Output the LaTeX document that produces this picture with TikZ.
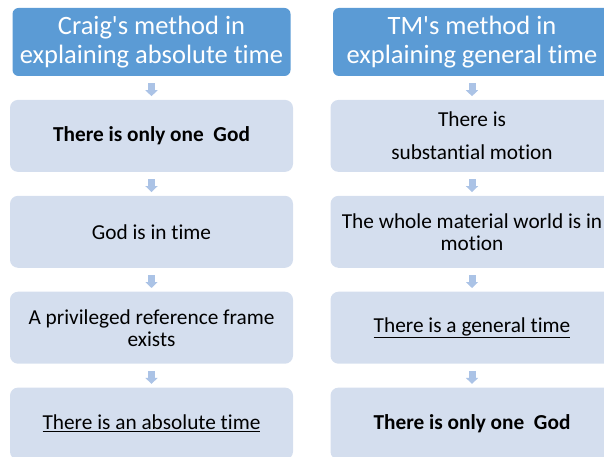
\documentclass[tikz,border=0pt]{standalone}
\usepackage{fontspec}
\setmainfont{Carlito}[Ligatures=NoCommon]
\usetikzlibrary{positioning,arrows.meta}
\definecolor{headblue}{HTML}{5B9BD5}
\definecolor{stepfill}{HTML}{D4DEEE}
\definecolor{arrowblue}{HTML}{ABC3E6}

\begin{document}
\begin{tikzpicture}[x=1pt,y=-1pt,node distance=23.5pt,
  head node/.style={rectangle,rounded corners=6pt,fill=headblue,text=white,inner sep=0pt,
    minimum width=278pt,minimum height=68pt,align=center,font=\fontsize{26.5}{29}\selectfont},
  box node/.style={rectangle,rounded corners=8pt,fill=stepfill,inner sep=0pt,
    minimum width=283pt,minimum height=72pt,align=center,font=\fontsize{21.3}{22}\selectfont},
  flow/.style={arrowblue,line width=7pt,-{Triangle[width=12pt,length=6pt]},
    shorten <=7pt,shorten >=3.5pt}]

  \useasboundingbox (0,0) rectangle (604,457);

  % Craig
  \node[head node] (lhead) at (151.5,42) {Craig\textquotesingle s method in\\explaining absolute time};
  \node[box node] (lgod) [below=of lhead] {\textbf{There is only one\ \ God}};
  \node[box node] (ltime) [below=of lgod] {God is in time};
  \node[box node] (lframe) [below=of ltime] {A privileged reference frame\\exists};
  \node[box node] (labs) [below=of lframe] {\underline{There is an absolute time}};

  % TM
  \node[head node] (rhead) at (472,42) {TM\textquotesingle s method in\\explaining general time};
  \node[box node] (rsub) [below=of rhead] {There is\\[11pt]substantial motion};
  \node[box node] (rworld) [below=of rsub] {The whole material world is in\\motion};
  \node[box node] (rgen) [below=of rworld] {\underline{There is a general time}};
  \node[box node] (rgod) [below=of rgen] {\textbf{There is only one\ \ God}};

  \path[flow]
    (lhead) edge (lgod)
    (lgod) edge (ltime)
    (ltime) edge (lframe)
    (lframe) edge (labs)
    (rhead) edge (rsub)
    (rsub) edge (rworld)
    (rworld) edge (rgen)
    (rgen) edge (rgod)
    ;

\end{tikzpicture}
\end{document}
